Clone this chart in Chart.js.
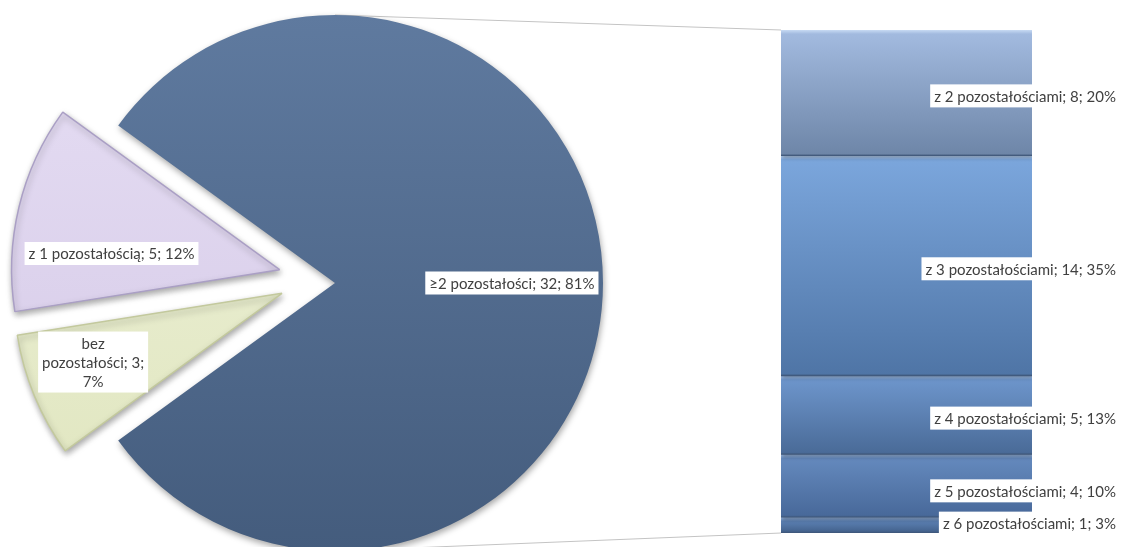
<!DOCTYPE html>
<html><head><meta charset="utf-8">
<script src="https://cdn.jsdelivr.net/npm/chart.js@4/dist/chart.umd.min.js"></script>
<style>
html,body{margin:0;padding:0;background:#fff;width:1125px;height:547px;overflow:hidden}
#wrap{position:relative;width:1125px;height:547px}
canvas{position:absolute;left:0;top:0}
#bar{z-index:0}#pie{z-index:1}
</style></head><body>
<div id="wrap"><canvas id="bar" width="1125" height="547"></canvas><canvas id="pie" width="1125" height="547"></canvas></div>
<script>
// ---- data ----
const pieLabels = ['≥2 pozostałości', 'bez pozostałości', 'z 1 pozostałością'];
const pieValues = [32, 3, 5];
const piePercents = ['81%', '7%', '12%'];
const barLabels = ['z 2 pozostałościami', 'z 3 pozostałościami', 'z 4 pozostałościami', 'z 5 pozostałościami', 'z 6 pozostałościami'];
const barValues = [8, 14, 5, 4, 1];
const barPercents = ['20%', '35%', '13%', '10%', '3%'];

// ---- styles ----
const FONT = '15px Lato, "Open Sans", sans-serif';
const TEXT = '#404040';
const pieTop = ['#5f7a9f', '#eff2dc', '#e6def4'];
const pieBot = ['#445c7d', '#dfe5bd', '#d3c7e5'];
const pieBorder = ['#4a6282', '#c3c99d', '#aa9fc5'];
const explode = [0, 54, 57];
const explodeAngleShift = [0, 11.5, 0];
const labelFrac = [0.66, 0.75, 0.63];
const labelAngleShift = [0, 2.5, -8];
const labelWrap = [0, 112, 0];
const barTop = ['#a2badf', '#7ba6dc', '#6d95cb', '#6489bd', '#5b80b3'];
const barBot = ['#6e86a8', '#4f75a6', '#4a6b98', '#48699a', '#45648f'];
const barHl = ['#c7daf3', '#b9d3f3', '#a9c6ee', '#a2c0ea', '#9dbbe6'];

function wrapText(ctx, text, maxW) {
  if (!maxW) return [text];
  const words = text.split(' ');
  const lines = [];
  let cur = '';
  for (const w of words) {
    const t = cur ? cur + ' ' + w : w;
    if (cur && ctx.measureText(t).width > maxW) { lines.push(cur); cur = w; }
    else cur = t;
  }
  if (cur) lines.push(cur);
  return lines;
}
function drawBox(ctx, lines, cx, cy, align) {
  ctx.font = FONT;
  const lh = 19;
  const w = Math.max(...lines.map(l => ctx.measureText(l).width)) + 8;
  const h = lines.length * lh + 4;
  let left = align === 'right' ? cx - w : cx - w / 2;
  const top = cy - h / 2;
  ctx.fillStyle = '#ffffff';
  ctx.fillRect(left, top, w, h);
  ctx.fillStyle = TEXT;
  ctx.textAlign = 'center';
  ctx.textBaseline = 'middle';
  lines.forEach((l, k) => ctx.fillText(l, left + w / 2, top + 2 + lh * (k + 0.5) + 1));
}

// ---- pie ----
const pieExplode = {
  id: 'pieExplode',
  afterDatasetsUpdate(chart) {
    chart.getDatasetMeta(0).data.forEach((arc, i) => {
      const d = explode[i];
      if (!d) return;
      const dir = (arc.startAngle + arc.endAngle) / 2 + explodeAngleShift[i] * Math.PI / 180;
      arc.x += Math.cos(dir) * d;
      arc.y += Math.sin(dir) * d;
    });
  }
};
const pieShadow = {
  id: 'pieShadow',
  beforeDatasetsDraw(chart) {
    const ctx = chart.ctx;
    ctx.save();
    ctx.shadowColor = 'rgba(0,0,0,0.35)';
    ctx.shadowBlur = 6;
    ctx.shadowOffsetX = 1;
    ctx.shadowOffsetY = 3;
  },
  afterDatasetsDraw(chart) {
    const ctx = chart.ctx;
    ctx.restore();
    ctx.save();
    const meta = chart.getDatasetMeta(0);
    meta.data.forEach((arc, i) => {
      const mid = (arc.startAngle + arc.endAngle) / 2 + labelAngleShift[i] * Math.PI / 180;
      const r = arc.outerRadius * labelFrac[i];
      const x = arc.x + Math.cos(mid) * r;
      const y = arc.y + Math.sin(mid) * r;
      ctx.font = FONT;
      const txt = pieLabels[i] + '; ' + pieValues[i] + '; ' + piePercents[i];
      drawBox(ctx, wrapText(ctx, txt, labelWrap[i]), x, y, 'center');
    });
    ctx.restore();
  }
};
function pieFill(c) {
  const i = c.dataIndex;
  const chart = c.chart;
  const a = chart.chartArea;
  if (!a) return pieTop[i];
  const cy = (a.top + a.bottom) / 2;
  const r = 268;
  const g = chart.ctx.createLinearGradient(0, cy - r, 0, cy + r);
  g.addColorStop(0, pieTop[i]);
  g.addColorStop(1, pieBot[i]);
  return g;
}
const pieChart = new Chart(document.getElementById('pie'), {
  type: 'pie',
  data: {
    labels: pieLabels,
    datasets: [{
      data: pieValues,
      backgroundColor: pieFill,
      borderColor: pieBorder,
      borderWidth: [0, 1.5, 1.5],
      clip: false
    }]
  },
  options: {
    responsive: false,
    animation: false,
    events: [],
    rotation: -54,
    radius: 268,
    layout: { padding: { left: 0, right: 455, top: 19, bottom: 0 } },
    plugins: { legend: { display: false }, tooltip: { enabled: false } }
  },
  plugins: [pieExplode, pieShadow]
});

// ---- bar ----
const cum = [];
barValues.reduce((s, v, i) => { cum[i] = s; return s + v; }, 0);
const barTotal = barValues.reduce((s, v) => s + v, 0);
function barFill(c, i) {
  const chart = c.chart;
  const y = chart.scales.y;
  if (!y || !chart.chartArea) return barTop[i];
  const y0 = y.getPixelForValue(cum[i]);
  const y1 = y.getPixelForValue(cum[i] + barValues[i]);
  const h = Math.max(1, y1 - y0);
  const g = chart.ctx.createLinearGradient(0, y0, 0, y1);
  const hl = Math.min(0.3, 4 / h);
  g.addColorStop(0, barHl[i]);
  g.addColorStop(hl, barTop[i]);
  g.addColorStop(Math.max(hl, 1 - 2 / h), barBot[i]);
  g.addColorStop(1, '#3d5577');
  return g;
}
const barDecor = {
  id: 'barDecor',
  beforeDraw(chart) {
    const ctx = chart.ctx;
    const a = chart.chartArea;
    const arc = pieChart.getDatasetMeta(0).data[0];
    ctx.save();
    ctx.strokeStyle = '#c4c4c4';
    ctx.lineWidth = 1;
    ctx.beginPath();
    ctx.moveTo(arc.x, arc.y - arc.outerRadius);
    ctx.lineTo(a.left, a.top);
    ctx.moveTo(arc.x, arc.y + arc.outerRadius);
    ctx.lineTo(a.left, a.bottom);
    ctx.stroke();
    ctx.restore();
  },
  beforeDatasetsDraw(chart) {
    const ctx = chart.ctx;
    ctx.save();
    ctx.shadowColor = 'rgba(0,0,0,0.3)';
    ctx.shadowBlur = 4;
    ctx.shadowOffsetX = 1;
    ctx.shadowOffsetY = 2;
  },
  afterDatasetsDraw(chart) {
    const ctx = chart.ctx;
    ctx.restore();
    ctx.save();
    const a = chart.chartArea;
    const nudge = [3, 3, 3, 5, -2];
    barValues.forEach((v, i) => {
      const el = chart.getDatasetMeta(i).data[0];
      const cy = (el.y + el.base) / 2 + nudge[i];
      drawBox(ctx, [barLabels[i] + '; ' + v + '; ' + barPercents[i]], a.right + 88, cy, 'right');
    });
    ctx.restore();
  }
};
new Chart(document.getElementById('bar'), {
  type: 'bar',
  data: {
    labels: [''],
    datasets: barValues.map((v, i) => ({
      label: barLabels[i],
      data: [v],
      backgroundColor: c => barFill(c, i),
      borderWidth: 0,
      barPercentage: 1,
      categoryPercentage: 1
    }))
  },
  options: {
    responsive: false,
    animation: false,
    events: [],
    layout: { padding: { left: 781, right: 93, top: 30, bottom: 14 } },
    scales: {
      x: { display: false, stacked: true },
      y: { display: false, stacked: true, reverse: true, min: 0, max: barTotal }
    },
    plugins: { legend: { display: false }, tooltip: { enabled: false } }
  },
  plugins: [barDecor]
});
</script>
</body></html>
